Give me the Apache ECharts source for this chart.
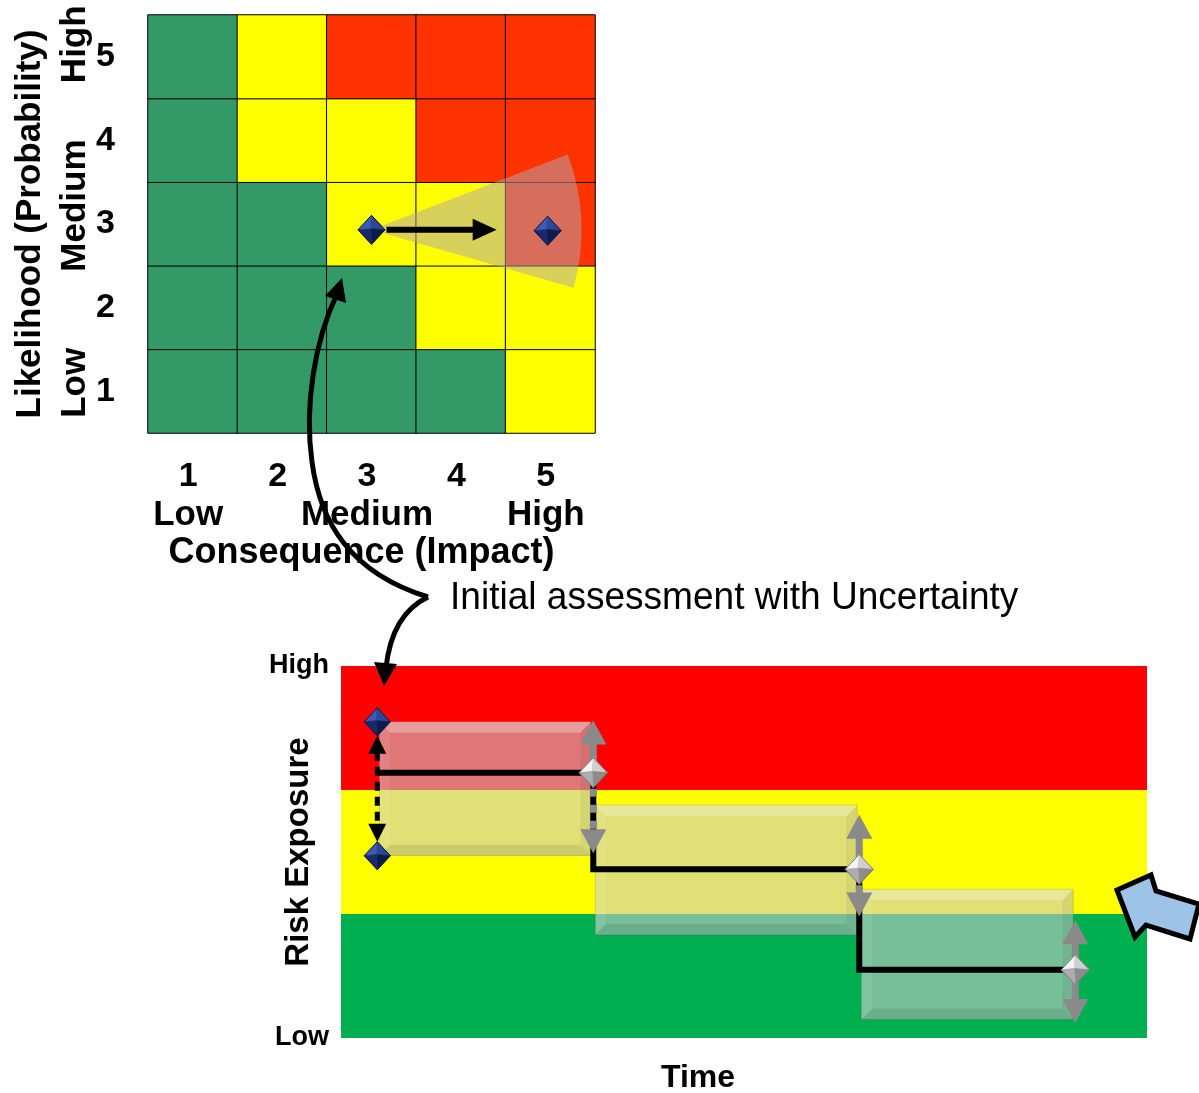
<!DOCTYPE html>
<html>
<head>
<meta charset="utf-8">
<script src="https://cdn.jsdelivr.net/npm/echarts@6/dist/echarts.min.js"></script>
<style>
  html, body { margin: 0; padding: 0; background: #ffffff; }
  #chart { width: 1199px; height: 1093px; }
</style>
</head>
<body>
<div id="chart"></div>
<script>
// ---------- Risk matrix: consequence (columns) x likelihood (rows) ----------
const consequenceLevels = ['1', '2', '3', '4', '5'];
const consequenceWords = ['Low', '', 'Medium', '', 'High'];
const likelihoodLevels = ['1', '2', '3', '4', '5'];
// risk class per cell, rows from likelihood 1 up to 5 (0 green, 1 yellow, 2 red)
const riskMatrix = [
  [0, 0, 0, 0, 1],
  [0, 0, 0, 1, 1],
  [0, 0, 1, 1, 2],
  [0, 1, 1, 2, 2],
  [0, 1, 2, 2, 2]
];
const riskColors = ['#339966', '#FFFF00', '#FF3300'];
// assessed positions (consequence, likelihood)
const initialPoint = [3.0, 2.93];
const revisedPoint = [4.97, 2.92];
const moveArrowEnd = [4.40, 2.93];
const fanRadius = 2.35;          // consequence units
const fanAngles = [-21, 16];     // degrees, screen orientation

// ---------- Risk exposure over time ----------
const exposureBands = [[0, 1], [1, 2], [2, 3]];
const bandColors = ['#00B050', '#FFFF00', '#FF0000'];
const exposureTicks = { 0: 'Low', 3: 'High' };
const timeBreaks = [0.45, 3.13, 6.43, 9.11];
const exposureLevels = [2.14, 1.36, 0.55];
const boxUpper = [2.55, 1.88, 1.20];
const boxLower = [1.47, 0.83, 0.15];
const arrowUpper = [2.56, 1.80, 0.95];
const arrowLower = [1.49, 0.98, 0.12];
const initialRange = [1.47, 2.55];

const FONT = "'Liberation Sans', Arial, sans-serif";
const chart = echarts.init(document.getElementById('chart'));

// faceted diamond drawn as four triangles around its apex
function gem(cx, cy, w, h, shades, stroke) {
  const t = [cx, cy - h / 2], r = [cx + w / 2, cy], b = [cx, cy + h / 2], l = [cx - w / 2, cy];
  const c = [cx - w * 0.04, cy - h * 0.04];
  const facets = [[l, t, c], [t, r, c], [r, b, c], [b, l, c]];
  const children = facets.map((pts, i) => ({
    type: 'polygon', shape: { points: pts },
    style: { fill: shades[i], stroke: shades[i], lineWidth: 0.6 }
  }));
  children.push({ type: 'polygon', shape: { points: [t, r, b, l] }, style: { fill: null, stroke: stroke, lineWidth: 1 } });
  return { type: 'group', children };
}
const NAVY = ['#3c5bb5', '#2b4799', '#0e1b4f', '#182a6e'];
const SILVER = ['#f4f4f4', '#cfcfcf', '#8c8c8c', '#adadad'];

// triangular arrow head, tip at (x, y), pointing along angle (radians, screen)
function head(x, y, ang, len, half, fill) {
  const bx = x - Math.cos(ang) * len, by = y - Math.sin(ang) * len;
  const nx = -Math.sin(ang) * half, ny = Math.cos(ang) * half;
  return { type: 'polygon', shape: { points: [[x, y], [bx + nx, by + ny], [bx - nx, by - ny]] }, style: { fill } };
}

const heatData = [];
riskMatrix.forEach((row, yi) => row.forEach((lvl, xi) => heatData.push([xi, yi, lvl])));

const stepData = timeBreaks.map((t, i) => [t, exposureLevels[Math.min(i, exposureLevels.length - 1)]]);

const M = { left: 148, top: 15, width: 447, height: 418 };
const B = { left: 341, top: 666, width: 806, height: 372 };

// curved pointer from the matrix cell down to the initial exposure
const pointerCurves = [
  [337, 294, 315, 340, 304, 405, 312, 462],
  [312, 462, 320, 522, 350, 573, 428, 597],
  [428, 597, 405, 608, 390, 630, 386, 668]
].map(c => ({
  type: 'bezierCurve', z: 50, silent: true,
  shape: { x1: c[0], y1: c[1], cpx1: c[2], cpy1: c[3], cpx2: c[4], cpy2: c[5], x2: c[6], y2: c[7] },
  style: { fill: null, stroke: '#000', lineWidth: 5 }
}));

const option = {
  animation: false,
  textStyle: { fontFamily: FONT },
  grid: [
    { left: M.left, top: M.top, width: M.width, height: M.height, outerBoundsMode: 'none' },
    { left: M.left, top: M.top, width: M.width, height: M.height, outerBoundsMode: 'none' },
    { left: B.left, top: B.top, width: B.width, height: B.height, outerBoundsMode: 'none' }
  ],
  visualMap: {
    type: 'piecewise', show: false, seriesIndex: 0, dimension: 2,
    pieces: riskColors.map((c, i) => ({ value: i, color: c }))
  },
  xAxis: [
    {
      gridIndex: 0, type: 'category', data: consequenceLevels,
      axisLine: { show: false }, axisTick: { show: false }, splitArea: { show: false },
      axisLabel: {
        margin: 24, interval: 0, padding: [0, 9, 0, 0],
        formatter: (v, i) => '{n|' + v + '}\n{w|' + (consequenceWords[i] || ' ') + '}',
        rich: {
          n: { fontSize: 34, fontWeight: 'bold', fontFamily: FONT, color: '#000', lineHeight: 39 },
          w: { fontSize: 35, fontWeight: 'bold', fontFamily: FONT, color: '#000', lineHeight: 39 }
        }
      },
      name: 'Consequence (Impact)', nameLocation: 'middle', nameGap: 102, nameMoveOverlap: false,
      nameTextStyle: { fontSize: 36, fontWeight: 'bold', color: '#000', fontFamily: FONT, padding: [0, 20, 0, 0] }
    },
    { gridIndex: 1, type: 'value', min: 0.5, max: 5.5, show: false },
    {
      gridIndex: 2, type: 'value', min: 0, max: 10,
      axisLine: { show: false }, axisTick: { show: false }, axisLabel: { show: false }, splitLine: { show: false },
      name: 'Time', nameLocation: 'middle', nameGap: 24, nameMoveOverlap: false,
      nameTextStyle: { fontSize: 32, fontWeight: 'bold', color: '#000', fontFamily: FONT, padding: [0, 92, 0, 0] }
    }
  ],
  yAxis: [
    {
      gridIndex: 0, type: 'category', data: likelihoodLevels,
      axisLine: { show: false }, axisTick: { show: false }, splitArea: { show: false },
      axisLabel: { margin: 33, fontSize: 34, fontWeight: 'bold', color: '#000', fontFamily: FONT },
      name: 'Likelihood (Probability)', nameLocation: 'middle', nameGap: 100, nameMoveOverlap: false,
      nameTextStyle: { fontSize: 35, fontWeight: 'bold', color: '#000', fontFamily: FONT }
    },
    { gridIndex: 1, type: 'value', min: 0.5, max: 5.5, show: false },
    {
      gridIndex: 2, type: 'value', min: 0, max: 3, interval: 3,
      axisLine: { show: false }, axisTick: { show: false }, splitLine: { show: false },
      axisLabel: {
        margin: 12, fontSize: 27, fontWeight: 'bold', color: '#000', fontFamily: FONT,
        formatter: v => exposureTicks[v] || ''
      },
      name: 'Risk Exposure', nameLocation: 'middle', nameGap: 26, nameMoveOverlap: false,
      nameTextStyle: { fontSize: 33, fontWeight: 'bold', color: '#000', fontFamily: FONT }
    }
  ],
  series: [
    {
      type: 'heatmap', xAxisIndex: 0, yAxisIndex: 0, data: heatData,
      itemStyle: { borderColor: '#000', borderWidth: 1 }, emphasis: { disabled: true }
    },
    // uncertainty fan around the initial assessment
    {
      type: 'custom', xAxisIndex: 1, yAxisIndex: 1, z: 3, silent: true,
      data: [[initialPoint[0], initialPoint[1], fanRadius]],
      renderItem: (params, api) => {
        const c = api.coord([api.value(0), api.value(1)]);
        const r = api.size([api.value(2), 0])[0];
        return {
          type: 'sector',
          shape: { cx: c[0], cy: c[1], r0: 0, r, startAngle: fanAngles[0] * Math.PI / 180, endAngle: fanAngles[1] * Math.PI / 180, clockwise: true },
          style: { fill: 'rgba(178,165,175,0.52)' }
        };
      }
    },
    // movement arrow
    {
      type: 'custom', xAxisIndex: 1, yAxisIndex: 1, z: 4, silent: true,
      data: [[initialPoint[0], initialPoint[1], moveArrowEnd[0], moveArrowEnd[1]]],
      renderItem: (params, api) => {
        const a = api.coord([api.value(0), api.value(1)]);
        const b = api.coord([api.value(2), api.value(3)]);
        return {
          type: 'group', children: [
            { type: 'line', shape: { x1: a[0] + 15, y1: a[1], x2: b[0] - 18, y2: b[1] }, style: { stroke: '#000', lineWidth: 6 } },
            head(b[0], b[1], 0, 24, 11, '#000')
          ]
        };
      }
    },
    // assessed positions
    {
      type: 'custom', xAxisIndex: 1, yAxisIndex: 1, z: 5, silent: true,
      data: [initialPoint, revisedPoint],
      renderItem: (params, api) => {
        const c = api.coord([api.value(0), api.value(1)]);
        return gem(c[0], c[1], 27, 29, NAVY, '#0a1440');
      }
    },
    // exposure bands
    {
      type: 'custom', xAxisIndex: 2, yAxisIndex: 2, z: 1, silent: true,
      data: exposureBands.map((b, i) => [b[0], b[1], i]),
      renderItem: (params, api) => {
        const p0 = api.coord([0, api.value(1)]);
        const p1 = api.coord([10, api.value(0)]);
        return { type: 'rect', shape: { x: p0[0], y: p0[1], width: p1[0] - p0[0], height: p1[1] - p0[1] }, style: { fill: bandColors[api.value(2)] } };
      }
    },
    // uncertainty boxes for each period
    {
      type: 'custom', xAxisIndex: 2, yAxisIndex: 2, z: 2, silent: true,
      data: boxUpper.map((u, i) => [timeBreaks[i], timeBreaks[i + 1], boxLower[i], u]),
      renderItem: (params, api) => {
        const p0 = api.coord([api.value(0), api.value(3)]);
        const p1 = api.coord([api.value(1), api.value(2)]);
        const x = p0[0] + 2, y = p0[1], w = p1[0] - p0[0] - 4, h = p1[1] - p0[1];
        const bev = 11;
        return {
          type: 'group', children: [
            { type: 'rect', shape: { x, y, width: w, height: h }, style: { fill: 'rgba(203,203,203,0.59)' } },
            { type: 'polygon', shape: { points: [[x, y], [x + w, y], [x + w - bev, y + bev], [x + bev, y + bev]] }, style: { fill: 'rgba(255,255,255,0.28)' } },
            { type: 'polygon', shape: { points: [[x + w, y], [x + w, y + h], [x + w - bev, y + h - bev], [x + w - bev, y + bev]] }, style: { fill: 'rgba(0,0,0,0.05)' } },
            { type: 'polygon', shape: { points: [[x, y], [x + bev, y + bev], [x + bev, y + h - bev], [x, y + h]] }, style: { fill: 'rgba(255,255,255,0.08)' } },
            { type: 'polygon', shape: { points: [[x, y + h], [x + bev, y + h - bev], [x + w - bev, y + h - bev], [x + w, y + h]] }, style: { fill: 'rgba(0,0,0,0.09)' } },
            { type: 'rect', shape: { x, y, width: w, height: h }, style: { fill: null, stroke: 'rgba(0,0,0,0.12)', lineWidth: 1 } }
          ]
        };
      }
    },
    // exposure path
    {
      type: 'line', xAxisIndex: 2, yAxisIndex: 2, z: 3, step: 'end', silent: true,
      data: stepData, symbol: 'none',
      lineStyle: { color: '#000', width: 6, join: 'miter', cap: 'butt' }
    },
    // initial uncertainty span
    {
      type: 'custom', xAxisIndex: 2, yAxisIndex: 2, z: 4, silent: true,
      data: [[timeBreaks[0], initialRange[0], initialRange[1]]],
      renderItem: (params, api) => {
        const lo = api.coord([api.value(0), api.value(1)]);
        const hi = api.coord([api.value(0), api.value(2)]);
        const x = lo[0];
        const topTip = hi[1] + 14, botTip = lo[1] - 14;
        return {
          type: 'group', children: [
            { type: 'line', shape: { x1: x, y1: topTip + 16, x2: x, y2: botTip - 16 }, style: { stroke: '#000', lineWidth: 5, lineDash: [9, 6] } },
            head(x, topTip, -Math.PI / 2, 18, 9, '#000'),
            head(x, botTip, Math.PI / 2, 18, 9, '#000'),
            gem(x, hi[1], 26, 28, NAVY, '#0a1440'),
            gem(x, lo[1], 26, 28, NAVY, '#0a1440')
          ]
        };
      }
    },
    // uncertainty at the end of each period
    {
      type: 'custom', xAxisIndex: 2, yAxisIndex: 2, z: 5, silent: true,
      data: exposureLevels.map((l, i) => [timeBreaks[i + 1], l, arrowLower[i], arrowUpper[i], i]),
      renderItem: (params, api) => {
        const m = api.coord([api.value(0), api.value(1)]);
        const lo = api.coord([api.value(0), api.value(2)]);
        const hi = api.coord([api.value(0), api.value(3)]);
        const idx = api.value(4);
        const x = m[0];
        const gray = '#8a8a8a';
        const hl = 24, hw = 13;
        const dashed = idx < exposureLevels.length - 1;
        return {
          type: 'group', children: [
            { type: 'line', shape: { x1: x, y1: m[1], x2: x, y2: hi[1] + hl - 2 }, style: { stroke: gray, lineWidth: 7 } },
            { type: 'line', shape: { x1: x, y1: m[1], x2: x, y2: lo[1] - hl + 2 }, style: { stroke: gray, lineWidth: 7, lineDash: dashed ? [8, 8] : null } },
            head(x, hi[1], -Math.PI / 2, hl, hw, gray),
            head(x, lo[1], Math.PI / 2, hl, hw, gray),
            gem(x, m[1], 28, 30, SILVER, '#7a7a7a')
          ]
        };
      }
    }
  ],
  graphic: pointerCurves.concat([
    {
      type: 'polygon', z: 50, silent: true,
      shape: { points: [[342, 278], [325, 296], [346, 303]] },
      style: { fill: '#000' }
    },
    {
      type: 'polygon', z: 50, silent: true,
      shape: { points: [[384, 686], [374, 662], [397, 664]] },
      style: { fill: '#000' }
    },
    {
      type: 'text', z: 50, x: 450, y: 598, scaleX: 0.95, silent: true,
      style: {
        text: 'Initial assessment with Uncertainty',
        fontFamily: FONT, fontSize: 39, fill: '#000',
        align: 'left', verticalAlign: 'middle', textAlign: 'left', textVerticalAlign: 'middle'
      }
    },
    // block arrow pointing at the green/yellow boundary
    {
      type: 'polygon', z: 50, silent: true,
      shape: { points: [[1117, 890], [1151, 875], [1156, 891], [1199, 904], [1190, 939], [1146, 925], [1135, 937]] },
      style: { fill: '#9DC3E6', stroke: '#000', lineWidth: 5, lineJoin: 'miter' }
    }
  ])
};

chart.setOption(option);

// rotated Low / Medium / High words beside the likelihood scale
const likelihoodWords = [['Low', 1.1], ['Medium', 3.22], ['High', 5.15]];
const wordGraphics = likelihoodWords.map(([text, v]) => {
  const p = chart.convertToPixel({ xAxisIndex: 1, yAxisIndex: 1 }, [0.5, v]);
  return {
    type: 'text', z: 50, x: 75, y: p[1], rotation: Math.PI / 2, silent: true,
    style: {
      text, fontFamily: FONT, fontSize: 35, fontWeight: 'bold', fill: '#000',
      align: 'center', verticalAlign: 'middle', textAlign: 'center', textVerticalAlign: 'middle'
    }
  };
});
chart.setOption({ graphic: option.graphic.concat(wordGraphics) });
</script>
</body>
</html>
